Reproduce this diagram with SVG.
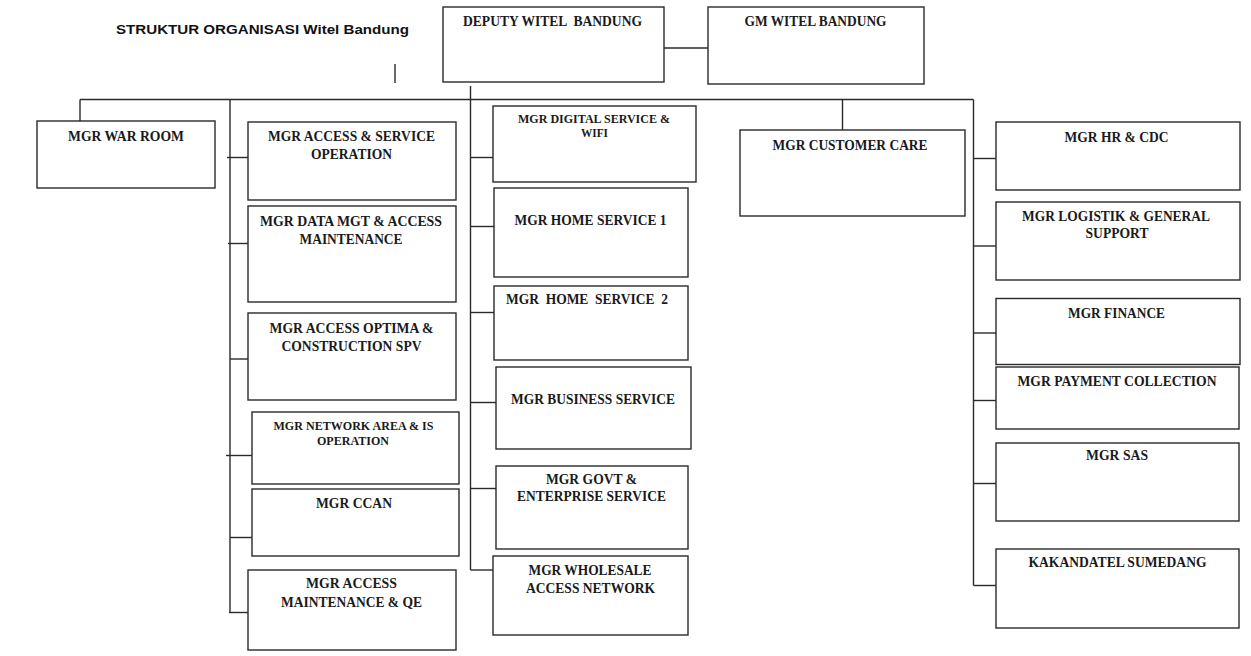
<svg xmlns="http://www.w3.org/2000/svg" width="1251" height="656" viewBox="0 0 1251 656">
<style>
.box{fill:#fff;stroke:#2a2a2a;stroke-width:1.4}
.ln{stroke:#2a2a2a;stroke-width:1.4;fill:none}
.t{font-family:"Liberation Serif","Times New Roman",serif;font-weight:bold;font-size:14.5px;fill:#1a1a1a;text-anchor:middle;white-space:pre}
.s{font-size:12.5px}
.title{font-family:"Liberation Sans",Arial,sans-serif;font-weight:bold;font-size:13.5px;fill:#111}
</style>
<rect width="1251" height="656" fill="#fff"/>
<text class="title" x="116" y="34" textLength="293" lengthAdjust="spacingAndGlyphs">STRUKTUR ORGANISASI Witel Bandung</text>
<g id="connectors">
<line class="ln" x1="395" y1="64" x2="395" y2="83"/>
<line class="ln" x1="661" y1="48" x2="708" y2="48"/>
<line class="ln" x1="80" y1="99.5" x2="973.5" y2="99.5"/>
<line class="ln" x1="80" y1="99.5" x2="80" y2="121"/>
<line class="ln" x1="230" y1="99.5" x2="230" y2="612.5"/>
<line class="ln" x1="227" y1="157.5" x2="248" y2="157.5"/>
<line class="ln" x1="228" y1="243.5" x2="252" y2="243.5"/>
<line class="ln" x1="230" y1="359" x2="248" y2="359"/>
<line class="ln" x1="226" y1="455.5" x2="252" y2="455.5"/>
<line class="ln" x1="230" y1="537.5" x2="252" y2="537.5"/>
<line class="ln" x1="229" y1="612.5" x2="248" y2="612.5"/>
<line class="ln" x1="470.5" y1="86" x2="470.5" y2="570"/>
<line class="ln" x1="470.5" y1="157.5" x2="493" y2="157.5"/>
<line class="ln" x1="470.5" y1="226.5" x2="494" y2="226.5"/>
<line class="ln" x1="470.5" y1="312.5" x2="494" y2="312.5"/>
<line class="ln" x1="470.5" y1="402.5" x2="496" y2="402.5"/>
<line class="ln" x1="470.5" y1="488.5" x2="496" y2="488.5"/>
<line class="ln" x1="470.5" y1="570" x2="493" y2="570"/>
<line class="ln" x1="842.5" y1="99.5" x2="842.5" y2="130"/>
<line class="ln" x1="973.5" y1="99.5" x2="973.5" y2="585.5"/>
<line class="ln" x1="973.5" y1="158.5" x2="996" y2="158.5"/>
<line class="ln" x1="973.5" y1="246" x2="996" y2="246"/>
<line class="ln" x1="973.5" y1="333" x2="996" y2="333"/>
<line class="ln" x1="973.5" y1="400.5" x2="996" y2="400.5"/>
<line class="ln" x1="973.5" y1="483.5" x2="996" y2="483.5"/>
<line class="ln" x1="973.5" y1="585.5" x2="996" y2="585.5"/>
</g>
<g id="deputy"><rect class="box" x="443" y="7" width="221" height="75"/><text class="t" x="552.5" y="26" textLength="179" lengthAdjust="spacingAndGlyphs" xml:space="preserve">DEPUTY WITEL  BANDUNG</text></g>
<g id="gm"><rect class="box" x="708" y="7" width="216" height="77"/><text class="t" x="815.5" y="26" textLength="142" lengthAdjust="spacingAndGlyphs">GM WITEL BANDUNG</text></g>
<g id="war-room"><rect class="box" x="37" y="121" width="178" height="67"/><text class="t" x="126" y="140.5" textLength="116" lengthAdjust="spacingAndGlyphs">MGR WAR ROOM</text></g>
<g id="access-service-op"><rect class="box" x="248" y="122" width="208" height="78"/><text class="t" x="351.5" y="140.5" textLength="167" lengthAdjust="spacingAndGlyphs">MGR ACCESS &amp; SERVICE</text><text class="t" x="351.5" y="158.5" textLength="81" lengthAdjust="spacingAndGlyphs">OPERATION</text></g>
<g id="data-mgt"><rect class="box" x="248" y="206" width="208" height="96"/><text class="t" x="351" y="225.5" textLength="182" lengthAdjust="spacingAndGlyphs">MGR DATA MGT &amp; ACCESS</text><text class="t" x="351" y="243.5" textLength="103" lengthAdjust="spacingAndGlyphs">MAINTENANCE</text></g>
<g id="access-optima"><rect class="box" x="248" y="313" width="208" height="87"/><text class="t" x="351.5" y="332.5" textLength="164" lengthAdjust="spacingAndGlyphs">MGR ACCESS OPTIMA &amp;</text><text class="t" x="351.5" y="351" textLength="140" lengthAdjust="spacingAndGlyphs">CONSTRUCTION SPV</text></g>
<g id="network-area"><rect class="box" x="252" y="412" width="207" height="72"/><text class="t s" x="353.5" y="429.5" textLength="160" lengthAdjust="spacingAndGlyphs">MGR NETWORK AREA &amp; IS</text><text class="t s" x="353" y="444.5" textLength="72" lengthAdjust="spacingAndGlyphs">OPERATION</text></g>
<g id="ccan"><rect class="box" x="252" y="489" width="207" height="67"/><text class="t" x="354" y="507.5" textLength="76" lengthAdjust="spacingAndGlyphs">MGR CCAN</text></g>
<g id="access-maint-qe"><rect class="box" x="248" y="570" width="208" height="80"/><text class="t" x="351.5" y="587.5" textLength="91" lengthAdjust="spacingAndGlyphs">MGR ACCESS</text><text class="t" x="351.5" y="606.5" textLength="141" lengthAdjust="spacingAndGlyphs">MAINTENANCE &amp; QE</text></g>
<g id="digital-service"><rect class="box" x="493" y="106" width="203" height="76"/><text class="t s" x="594" y="122.5" textLength="152" lengthAdjust="spacingAndGlyphs">MGR DIGITAL SERVICE &amp;</text><text class="t s" x="594.5" y="136.5" textLength="27" lengthAdjust="spacingAndGlyphs">WIFI</text></g>
<g id="home-service-1"><rect class="box" x="494" y="188" width="194" height="89"/><text class="t" x="590.5" y="225" textLength="152" lengthAdjust="spacingAndGlyphs">MGR HOME SERVICE 1</text></g>
<g id="home-service-2"><rect class="box" x="494" y="286" width="194" height="74"/><text class="t" x="587" y="303.5" textLength="162" lengthAdjust="spacingAndGlyphs" xml:space="preserve">MGR  HOME  SERVICE  2</text></g>
<g id="business-service"><rect class="box" x="496" y="367" width="195" height="82"/><text class="t" x="593" y="403.5" textLength="164" lengthAdjust="spacingAndGlyphs">MGR BUSINESS SERVICE</text></g>
<g id="govt-enterprise"><rect class="box" x="496" y="466" width="192" height="83"/><text class="t" x="591.5" y="483.5" textLength="91" lengthAdjust="spacingAndGlyphs">MGR GOVT &amp;</text><text class="t" x="591.5" y="501" textLength="149" lengthAdjust="spacingAndGlyphs">ENTERPRISE SERVICE</text></g>
<g id="wholesale"><rect class="box" x="493" y="556" width="195" height="79"/><text class="t" x="590" y="574.5" textLength="123" lengthAdjust="spacingAndGlyphs">MGR WHOLESALE</text><text class="t" x="590.5" y="592.5" textLength="129" lengthAdjust="spacingAndGlyphs">ACCESS NETWORK</text></g>
<g id="customer-care"><rect class="box" x="740" y="130" width="225" height="86"/><text class="t" x="850" y="149.5" textLength="155" lengthAdjust="spacingAndGlyphs">MGR CUSTOMER CARE</text></g>
<g id="hr-cdc"><rect class="box" x="996" y="122" width="244" height="68"/><text class="t" x="1116.5" y="141.5" textLength="104" lengthAdjust="spacingAndGlyphs">MGR HR &amp; CDC</text></g>
<g id="logistik"><rect class="box" x="996" y="202" width="244" height="78"/><text class="t" x="1116" y="220.5" textLength="188" lengthAdjust="spacingAndGlyphs">MGR LOGISTIK &amp; GENERAL</text><text class="t" x="1117" y="238" textLength="63" lengthAdjust="spacingAndGlyphs">SUPPORT</text></g>
<g id="finance"><rect class="box" x="996" y="298.5" width="244" height="66"/><text class="t" x="1116.5" y="317.5" textLength="97" lengthAdjust="spacingAndGlyphs">MGR FINANCE</text></g>
<g id="payment-collection"><rect class="box" x="996" y="367" width="243" height="62"/><text class="t" x="1117" y="385.5" textLength="199" lengthAdjust="spacingAndGlyphs">MGR PAYMENT COLLECTION</text></g>
<g id="sas"><rect class="box" x="996" y="443" width="243" height="78"/><text class="t" x="1117" y="460" textLength="62" lengthAdjust="spacingAndGlyphs">MGR SAS</text></g>
<g id="kakandatel"><rect class="box" x="996" y="549" width="243" height="79"/><text class="t" x="1117.5" y="566.5" textLength="178" lengthAdjust="spacingAndGlyphs">KAKANDATEL SUMEDANG</text></g>
</svg>
